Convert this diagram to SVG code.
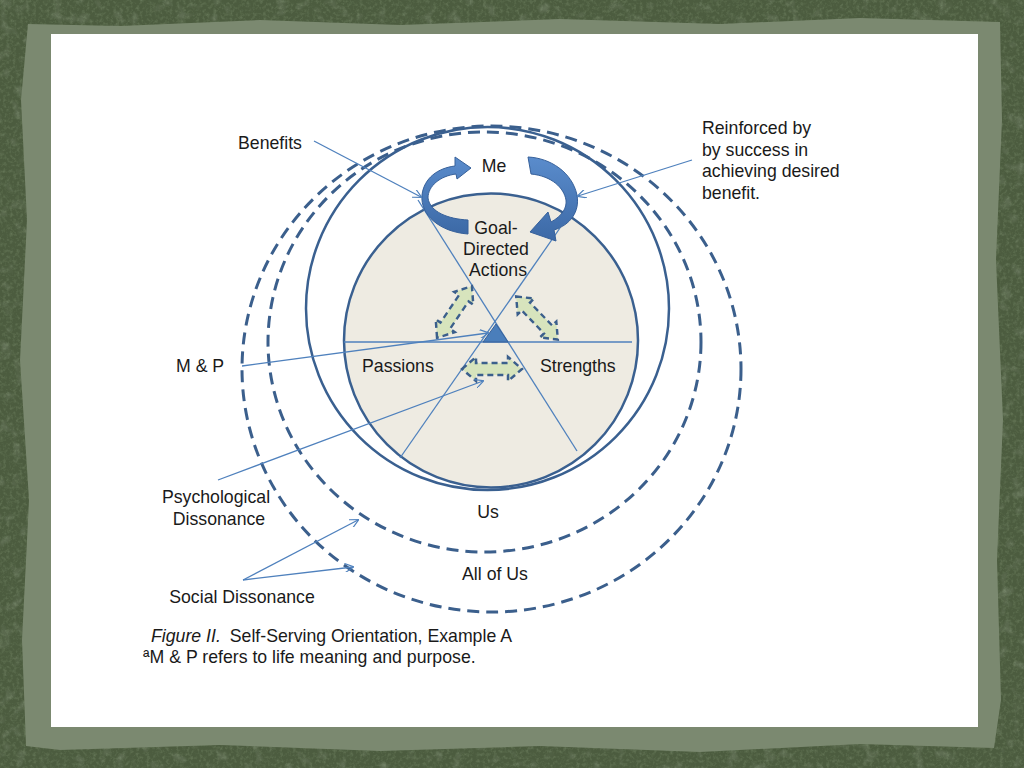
<svg xmlns="http://www.w3.org/2000/svg" width="1024" height="768" viewBox="0 0 1024 768">
<style>
text{font-family:"Liberation Sans",Arial,sans-serif;font-size:17.7px;fill:#1a1a1a}
.solid{fill:none;stroke:#3a6090;stroke-width:2.5}
.dash{fill:none;stroke:#3b5f8c;stroke-width:3;stroke-dasharray:12 7}
.thin{stroke:#4f81bd;stroke-width:1.3;fill:none}
.lbl{stroke:#4f81bd;stroke-width:1.3;fill:none;marker-end:url(#ah)}
.green{fill:#d7e4bd;stroke:#3b5f8c;stroke-width:2.5;stroke-dasharray:6 4}
.ribbon{fill:url(#rg);stroke:#36609a;stroke-width:1}
</style>
<defs>
<marker id="ah" viewBox="0 0 10 10" refX="9" refY="5" markerWidth="9" markerHeight="9" orient="auto" markerUnits="userSpaceOnUse">
<path d="M0,0 L10,5 L0,10" fill="none" stroke="#4f81bd" stroke-width="1.3"/>
</marker>
<linearGradient id="rg" x1="0" y1="0" x2="0" y2="1">
<stop offset="0" stop-color="#5a8ccc"/>
<stop offset="1" stop-color="#3c69a6"/>
</linearGradient>
<path id="dbl" d="M -30 0 L -16 -12 L -16 -6 L 16 -6 L 16 -12 L 30 0 L 16 12 L 16 6 L -16 6 L -16 12 Z"/>
<filter id="tex" x="0" y="0" width="100%" height="100%">
<feTurbulence type="fractalNoise" baseFrequency="0.3" numOctaves="3" seed="4"/>
<feColorMatrix type="matrix" values="0 0 0 0 0.16  0 0 0 0 0.22  0 0 0 0 0.12  0 0 0 -2 1.1"/>
</filter>
<filter id="tex2" x="0" y="0" width="100%" height="100%">
<feTurbulence type="fractalNoise" baseFrequency="0.08" numOctaves="2" seed="9"/>
<feColorMatrix type="matrix" values="0 0 0 0 0.62  0 0 0 0 0.68  0 0 0 0 0.58  0 0 0 -2.2 1.0"/>
</filter>
</defs>
<g id="background">
<rect x="0" y="0" width="1024" height="768" fill="#4c5c3f"/>
<rect x="0" y="0" width="1024" height="768" filter="url(#tex)" opacity="0.7"/>
<rect x="0" y="0" width="1024" height="768" filter="url(#tex2)" opacity="0.25"/>
<path d="M28 24 L120 26 L260 20 L400 25 L560 19 L720 24 L860 18 L1000 22 L1002 120 L996 260 L1003 420 L997 560 L1001 700 L994 748 L860 744 L700 752 L540 746 L380 751 L220 745 L60 750 L26 746 L22 640 L29 500 L20 360 L27 220 L21 100 Z" fill="#7b8970"/>
<rect x="51" y="34" width="927" height="693" fill="#ffffff"/>
</g>
<g id="ring-all-of-us"><ellipse class="dash" cx="491.5" cy="369" rx="249.5" ry="243"/></g>
<g id="ring-us"><ellipse class="dash" cx="484.5" cy="342" rx="216.5" ry="210"/></g>
<g id="ring-me"><circle class="solid" cx="487.5" cy="308.5" r="181.5"/></g>
<g id="core"><circle cx="491" cy="340.5" r="147" fill="#eeebe2" stroke="#3a6090" stroke-width="2.5"/></g>
<g id="axes">
<line class="thin" x1="418" y1="200" x2="577" y2="451"/>
<line class="thin" x1="560" y1="228" x2="400" y2="458"/>
<line class="thin" x1="344" y1="342" x2="632" y2="342"/>
</g>
<g id="triangle"><polygon points="483,342 508,342 496,324" fill="#4a7ebb" stroke="#36609a" stroke-width="1"/></g>
<g id="cycle">
<path class="ribbon" d="M 468 234 C 440 232, 420 215, 422 195 C 424 178, 438 168, 455 166 L 455 157 L 471 168 L 457 179 L 456 174 C 440 176, 428 186, 428 198 C 430 212, 448 219, 468 220 Z"/>
<path class="ribbon" d="M 528 157 C 550 158, 572 172, 577 195 C 580 212, 570 225, 554 230 L 556 241 L 530 232 L 548 212 L 551 222 C 562 216, 567 208, 566 200 C 564 188, 552 176, 531 174 Z"/>
</g>
<g id="green-arrows">
<use href="#dbl" class="green" transform="translate(454.5,312) rotate(-56) scale(1.04,0.95)"/>
<use href="#dbl" class="green" transform="translate(537,318) rotate(46) scale(1.0,0.95)"/>
<use href="#dbl" class="green" transform="translate(492,369)"/>
</g>
<g id="connectors">
<line class="lbl" x1="314" y1="141" x2="421" y2="197"/>
<line class="lbl" x1="692" y1="160" x2="578" y2="196"/>
<line class="lbl" x1="242" y1="366" x2="488" y2="333"/>
<line class="lbl" x1="218" y1="480" x2="483" y2="381"/>
<line class="lbl" x1="243" y1="580" x2="358" y2="520"/>
<line class="lbl" x1="243" y1="580" x2="353" y2="567"/>
</g>
<g id="labels">
<text x="238" y="149">Benefits</text>
<text x="494" y="172" text-anchor="middle">Me</text>
<text x="496" y="234" text-anchor="middle">Goal-</text>
<text x="496" y="255" text-anchor="middle">Directed</text>
<text x="498" y="276" text-anchor="middle">Actions</text>
<text x="702" y="134">Reinforced by</text>
<text x="702" y="156">by success in</text>
<text x="702" y="177">achieving desired</text>
<text x="702" y="199">benefit.</text>
<text x="176" y="372">M &amp; P</text>
<text x="362" y="372">Passions</text>
<text x="540" y="372">Strengths</text>
<text x="216" y="503" text-anchor="middle">Psychological</text>
<text x="219" y="525" text-anchor="middle">Dissonance</text>
<text x="488" y="518" text-anchor="middle">Us</text>
<text x="495" y="580" text-anchor="middle">All of Us</text>
<text x="242" y="603" text-anchor="middle">Social Dissonance</text>
<text x="151" y="642"><tspan font-style="italic">Figure II.</tspan><tspan dx="9">Self-Serving Orientation, Example A</tspan></text>
<text x="143" y="663">ªM &amp; P refers to life meaning and purpose.</text>
</g>
</svg>
